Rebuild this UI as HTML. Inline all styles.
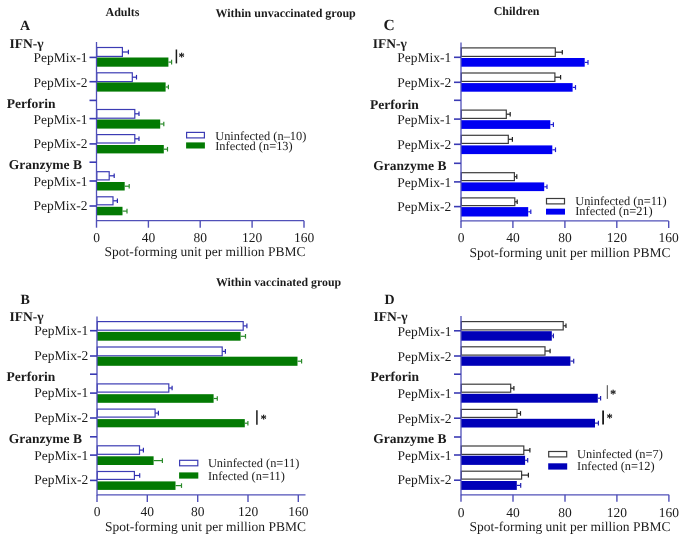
<!DOCTYPE html>
<html><head><meta charset="utf-8"><style>
html,body{margin:0;padding:0;background:#fff;}
svg{display:block;font-family:"Liberation Serif", serif;text-rendering:geometricPrecision;filter:blur(0.45px);}
</style></head><body>
<svg width="685" height="539" viewBox="0 0 685 539">
<rect width="685" height="539" fill="#fff"/>
<rect x="96.8" y="47.5" width="25.6" height="8.9" fill="#fff" stroke="#3c3cb4" stroke-width="1.2"/>
<line x1="122.6" y1="52.0" x2="128.4" y2="52.0" stroke="#2a2ab0" stroke-width="1.2"/>
<line x1="128.4" y1="49.7" x2="128.4" y2="54.2" stroke="#2a2ab0" stroke-width="1.2"/>
<rect x="96.5" y="57.5" width="71.9" height="9.2" fill="#037a03"/>
<line x1="168.4" y1="62.1" x2="171.6" y2="62.1" stroke="#2a8a2a" stroke-width="1.2"/>
<line x1="171.6" y1="59.8" x2="171.6" y2="64.4" stroke="#2a8a2a" stroke-width="1.2"/>
<rect x="96.8" y="72.8" width="35.5" height="8.8" fill="#fff" stroke="#3c3cb4" stroke-width="1.2"/>
<line x1="132.5" y1="77.2" x2="136.5" y2="77.2" stroke="#2a2ab0" stroke-width="1.2"/>
<line x1="136.5" y1="74.9" x2="136.5" y2="79.5" stroke="#2a2ab0" stroke-width="1.2"/>
<rect x="96.5" y="82.4" width="69.1" height="9.2" fill="#037a03"/>
<line x1="165.6" y1="87.0" x2="168.4" y2="87.0" stroke="#2a8a2a" stroke-width="1.2"/>
<line x1="168.4" y1="84.7" x2="168.4" y2="89.3" stroke="#2a8a2a" stroke-width="1.2"/>
<rect x="96.8" y="109.5" width="38.0" height="8.7" fill="#fff" stroke="#3c3cb4" stroke-width="1.2"/>
<line x1="135.0" y1="113.8" x2="139.0" y2="113.8" stroke="#2a2ab0" stroke-width="1.2"/>
<line x1="139.0" y1="111.5" x2="139.0" y2="116.1" stroke="#2a2ab0" stroke-width="1.2"/>
<rect x="96.5" y="119.5" width="63.7" height="9.1" fill="#037a03"/>
<line x1="160.2" y1="124.0" x2="163.8" y2="124.0" stroke="#2a8a2a" stroke-width="1.2"/>
<line x1="163.8" y1="121.8" x2="163.8" y2="126.3" stroke="#2a8a2a" stroke-width="1.2"/>
<rect x="96.8" y="134.6" width="38.0" height="8.4" fill="#fff" stroke="#3c3cb4" stroke-width="1.2"/>
<line x1="135.0" y1="138.8" x2="139.0" y2="138.8" stroke="#2a2ab0" stroke-width="1.2"/>
<line x1="139.0" y1="136.5" x2="139.0" y2="141.1" stroke="#2a2ab0" stroke-width="1.2"/>
<rect x="96.5" y="145.0" width="67.3" height="8.4" fill="#037a03"/>
<line x1="163.8" y1="149.2" x2="167.5" y2="149.2" stroke="#2a8a2a" stroke-width="1.2"/>
<line x1="167.5" y1="146.9" x2="167.5" y2="151.5" stroke="#2a8a2a" stroke-width="1.2"/>
<rect x="96.8" y="171.7" width="12.4" height="8.2" fill="#fff" stroke="#3c3cb4" stroke-width="1.2"/>
<line x1="109.4" y1="175.8" x2="114.2" y2="175.8" stroke="#2a2ab0" stroke-width="1.2"/>
<line x1="114.2" y1="173.5" x2="114.2" y2="178.1" stroke="#2a2ab0" stroke-width="1.2"/>
<rect x="96.5" y="182.0" width="28.2" height="8.5" fill="#037a03"/>
<line x1="124.7" y1="186.2" x2="129.2" y2="186.2" stroke="#2a8a2a" stroke-width="1.2"/>
<line x1="129.2" y1="183.9" x2="129.2" y2="188.6" stroke="#2a8a2a" stroke-width="1.2"/>
<rect x="96.8" y="196.8" width="16.2" height="8.0" fill="#fff" stroke="#3c3cb4" stroke-width="1.2"/>
<line x1="113.2" y1="200.8" x2="117.4" y2="200.8" stroke="#2a2ab0" stroke-width="1.2"/>
<line x1="117.4" y1="198.5" x2="117.4" y2="203.1" stroke="#2a2ab0" stroke-width="1.2"/>
<rect x="96.5" y="206.8" width="26.0" height="8.5" fill="#037a03"/>
<line x1="122.5" y1="211.1" x2="127.0" y2="211.1" stroke="#2a8a2a" stroke-width="1.2"/>
<line x1="127.0" y1="208.8" x2="127.0" y2="213.4" stroke="#2a8a2a" stroke-width="1.2"/>
<line x1="96.5" y1="42.0" x2="96.5" y2="221.2" stroke="#5050b8" stroke-width="1.3"/>
<line x1="96.5" y1="220.7" x2="304.0" y2="220.7" stroke="#5050b8" stroke-width="1.3"/>
<line x1="89.5" y1="57.4" x2="96.5" y2="57.4" stroke="#3a3ab4" stroke-width="1.6"/>
<line x1="89.5" y1="81.7" x2="96.5" y2="81.7" stroke="#3a3ab4" stroke-width="1.6"/>
<line x1="89.5" y1="100.4" x2="96.5" y2="100.4" stroke="#3a3ab4" stroke-width="1.6"/>
<line x1="89.5" y1="118.6" x2="96.5" y2="118.6" stroke="#3a3ab4" stroke-width="1.6"/>
<line x1="89.5" y1="143.9" x2="96.5" y2="143.9" stroke="#3a3ab4" stroke-width="1.6"/>
<line x1="89.5" y1="162.2" x2="96.5" y2="162.2" stroke="#3a3ab4" stroke-width="1.6"/>
<line x1="89.5" y1="181.0" x2="96.5" y2="181.0" stroke="#3a3ab4" stroke-width="1.6"/>
<line x1="89.5" y1="206.0" x2="96.5" y2="206.0" stroke="#3a3ab4" stroke-width="1.6"/>
<line x1="96.5" y1="220.7" x2="96.5" y2="227.7" stroke="#5050b8" stroke-width="1.4"/>
<text x="96.5" y="242.4" font-size="13.5" text-anchor="middle" fill="#1c1c1c">0</text>
<line x1="148.4" y1="220.7" x2="148.4" y2="227.7" stroke="#5050b8" stroke-width="1.4"/>
<text x="148.4" y="242.4" font-size="13.5" text-anchor="middle" fill="#1c1c1c">40</text>
<line x1="200.2" y1="220.7" x2="200.2" y2="227.7" stroke="#5050b8" stroke-width="1.4"/>
<text x="200.2" y="242.4" font-size="13.5" text-anchor="middle" fill="#1c1c1c">80</text>
<line x1="252.1" y1="220.7" x2="252.1" y2="227.7" stroke="#5050b8" stroke-width="1.4"/>
<text x="252.1" y="242.4" font-size="13.5" text-anchor="middle" fill="#1c1c1c">120</text>
<line x1="304.0" y1="220.7" x2="304.0" y2="227.7" stroke="#5050b8" stroke-width="1.4"/>
<text x="304.0" y="242.4" font-size="13.5" text-anchor="middle" fill="#1c1c1c">160</text>
<text x="87.4" y="61.8" font-size="13.5" text-anchor="end" fill="#1c1c1c">PepMix-1</text>
<text x="87.4" y="86.6" font-size="13.5" text-anchor="end" fill="#1c1c1c">PepMix-2</text>
<text x="87.4" y="123.6" font-size="13.5" text-anchor="end" fill="#1c1c1c">PepMix-1</text>
<text x="87.4" y="148.2" font-size="13.5" text-anchor="end" fill="#1c1c1c">PepMix-2</text>
<text x="87.4" y="185.8" font-size="13.5" text-anchor="end" fill="#1c1c1c">PepMix-1</text>
<text x="87.4" y="210.1" font-size="13.5" text-anchor="end" fill="#1c1c1c">PepMix-2</text>
<text x="19.9" y="30.2" font-size="14" font-weight="bold" fill="#1c1c1c">A</text>
<text x="9.5" y="47.9" font-size="13.5" font-weight="bold" fill="#1c1c1c">IFN-γ</text>
<text x="6.7" y="107.6" font-size="13.5" font-weight="bold" fill="#1c1c1c">Perforin</text>
<text x="8.8" y="169.4" font-size="13.5" font-weight="bold" fill="#1c1c1c">Granzyme B</text>
<text x="104.5" y="256.4" font-size="13.5" fill="#1c1c1c">Spot-forming unit per million PBMC</text>
<rect x="186.6" y="132.4" width="17.8" height="5.5" fill="#fff" stroke="#3c3cb4" stroke-width="1.2"/>
<rect x="186.1" y="142.4" width="18.8" height="6.1" fill="#037a03"/>
<text x="215.2" y="139.8" font-size="12.4" fill="#1c1c1c">Uninfected (n–10)</text>
<text x="215.2" y="150.0" font-size="12.4" fill="#1c1c1c">Infected (n=13)</text>
<line x1="176.4" y1="49.5" x2="176.4" y2="63.4" stroke="#1a1a1a" stroke-width="1.5"/>
<text x="178.5" y="61.1" font-size="12.5" font-weight="bold" fill="#000">*</text>
<rect x="97.3" y="321.6" width="145.9" height="8.6" fill="#fff" stroke="#3c3cb4" stroke-width="1.2"/>
<line x1="243.4" y1="325.9" x2="246.9" y2="325.9" stroke="#2a2ab0" stroke-width="1.2"/>
<line x1="246.9" y1="323.6" x2="246.9" y2="328.2" stroke="#2a2ab0" stroke-width="1.2"/>
<rect x="97.0" y="331.9" width="143.6" height="8.8" fill="#037a03"/>
<line x1="240.6" y1="336.3" x2="245.5" y2="336.3" stroke="#2a8a2a" stroke-width="1.2"/>
<line x1="245.5" y1="334.0" x2="245.5" y2="338.6" stroke="#2a8a2a" stroke-width="1.2"/>
<rect x="97.3" y="347.0" width="124.9" height="8.8" fill="#fff" stroke="#3c3cb4" stroke-width="1.2"/>
<line x1="222.4" y1="351.4" x2="225.4" y2="351.4" stroke="#2a2ab0" stroke-width="1.2"/>
<line x1="225.4" y1="349.1" x2="225.4" y2="353.7" stroke="#2a2ab0" stroke-width="1.2"/>
<rect x="97.0" y="356.7" width="200.5" height="9.1" fill="#037a03"/>
<line x1="297.5" y1="361.2" x2="301.6" y2="361.2" stroke="#2a8a2a" stroke-width="1.2"/>
<line x1="301.6" y1="358.9" x2="301.6" y2="363.6" stroke="#2a8a2a" stroke-width="1.2"/>
<rect x="97.3" y="383.9" width="71.5" height="8.2" fill="#fff" stroke="#3c3cb4" stroke-width="1.2"/>
<line x1="169.0" y1="388.0" x2="172.1" y2="388.0" stroke="#2a2ab0" stroke-width="1.2"/>
<line x1="172.1" y1="385.7" x2="172.1" y2="390.3" stroke="#2a2ab0" stroke-width="1.2"/>
<rect x="97.0" y="394.2" width="116.6" height="8.6" fill="#037a03"/>
<line x1="213.6" y1="398.5" x2="217.3" y2="398.5" stroke="#2a8a2a" stroke-width="1.2"/>
<line x1="217.3" y1="396.2" x2="217.3" y2="400.8" stroke="#2a8a2a" stroke-width="1.2"/>
<rect x="97.3" y="409.1" width="57.8" height="8.0" fill="#fff" stroke="#3c3cb4" stroke-width="1.2"/>
<line x1="155.3" y1="413.1" x2="158.4" y2="413.1" stroke="#2a2ab0" stroke-width="1.2"/>
<line x1="158.4" y1="410.8" x2="158.4" y2="415.4" stroke="#2a2ab0" stroke-width="1.2"/>
<rect x="97.0" y="419.1" width="147.8" height="8.2" fill="#037a03"/>
<line x1="244.8" y1="423.2" x2="247.9" y2="423.2" stroke="#2a8a2a" stroke-width="1.2"/>
<line x1="247.9" y1="420.9" x2="247.9" y2="425.5" stroke="#2a8a2a" stroke-width="1.2"/>
<rect x="97.3" y="445.8" width="42.2" height="8.5" fill="#fff" stroke="#3c3cb4" stroke-width="1.2"/>
<line x1="139.7" y1="450.1" x2="143.4" y2="450.1" stroke="#2a2ab0" stroke-width="1.2"/>
<line x1="143.4" y1="447.8" x2="143.4" y2="452.4" stroke="#2a2ab0" stroke-width="1.2"/>
<rect x="97.0" y="456.3" width="56.6" height="8.7" fill="#037a03"/>
<line x1="153.6" y1="460.6" x2="162.4" y2="460.6" stroke="#2a8a2a" stroke-width="1.2"/>
<line x1="162.4" y1="458.3" x2="162.4" y2="462.9" stroke="#2a8a2a" stroke-width="1.2"/>
<rect x="97.3" y="471.5" width="37.1" height="7.9" fill="#fff" stroke="#3c3cb4" stroke-width="1.2"/>
<line x1="134.6" y1="475.5" x2="139.7" y2="475.5" stroke="#2a2ab0" stroke-width="1.2"/>
<line x1="139.7" y1="473.2" x2="139.7" y2="477.8" stroke="#2a2ab0" stroke-width="1.2"/>
<rect x="97.0" y="481.4" width="78.5" height="8.5" fill="#037a03"/>
<line x1="175.5" y1="485.6" x2="181.5" y2="485.6" stroke="#2a8a2a" stroke-width="1.2"/>
<line x1="181.5" y1="483.3" x2="181.5" y2="487.9" stroke="#2a8a2a" stroke-width="1.2"/>
<line x1="97.0" y1="316.6" x2="97.0" y2="495.4" stroke="#5050b8" stroke-width="1.3"/>
<line x1="97.0" y1="494.9" x2="305.5" y2="494.9" stroke="#5050b8" stroke-width="1.3"/>
<line x1="90.0" y1="330.7" x2="97.0" y2="330.7" stroke="#3a3ab4" stroke-width="1.6"/>
<line x1="90.0" y1="356.0" x2="97.0" y2="356.0" stroke="#3a3ab4" stroke-width="1.6"/>
<line x1="90.0" y1="374.2" x2="97.0" y2="374.2" stroke="#3a3ab4" stroke-width="1.6"/>
<line x1="90.0" y1="393.1" x2="97.0" y2="393.1" stroke="#3a3ab4" stroke-width="1.6"/>
<line x1="90.0" y1="418.0" x2="97.0" y2="418.0" stroke="#3a3ab4" stroke-width="1.6"/>
<line x1="90.0" y1="436.8" x2="97.0" y2="436.8" stroke="#3a3ab4" stroke-width="1.6"/>
<line x1="90.0" y1="455.1" x2="97.0" y2="455.1" stroke="#3a3ab4" stroke-width="1.6"/>
<line x1="90.0" y1="480.4" x2="97.0" y2="480.4" stroke="#3a3ab4" stroke-width="1.6"/>
<line x1="97.0" y1="494.9" x2="97.0" y2="501.9" stroke="#5050b8" stroke-width="1.4"/>
<text x="97.0" y="516.4" font-size="13.5" text-anchor="middle" fill="#1c1c1c">0</text>
<line x1="147.3" y1="494.9" x2="147.3" y2="501.9" stroke="#5050b8" stroke-width="1.4"/>
<text x="147.3" y="516.4" font-size="13.5" text-anchor="middle" fill="#1c1c1c">40</text>
<line x1="197.7" y1="494.9" x2="197.7" y2="501.9" stroke="#5050b8" stroke-width="1.4"/>
<text x="197.7" y="516.4" font-size="13.5" text-anchor="middle" fill="#1c1c1c">80</text>
<line x1="248.0" y1="494.9" x2="248.0" y2="501.9" stroke="#5050b8" stroke-width="1.4"/>
<text x="248.0" y="516.4" font-size="13.5" text-anchor="middle" fill="#1c1c1c">120</text>
<line x1="298.3" y1="494.9" x2="298.3" y2="501.9" stroke="#5050b8" stroke-width="1.4"/>
<text x="298.3" y="516.4" font-size="13.5" text-anchor="middle" fill="#1c1c1c">160</text>
<text x="88.3" y="335.3" font-size="13.5" text-anchor="end" fill="#1c1c1c">PepMix-1</text>
<text x="88.3" y="360.1" font-size="13.5" text-anchor="end" fill="#1c1c1c">PepMix-2</text>
<text x="88.3" y="397.3" font-size="13.5" text-anchor="end" fill="#1c1c1c">PepMix-1</text>
<text x="88.3" y="421.9" font-size="13.5" text-anchor="end" fill="#1c1c1c">PepMix-2</text>
<text x="88.3" y="459.5" font-size="13.5" text-anchor="end" fill="#1c1c1c">PepMix-1</text>
<text x="88.3" y="483.8" font-size="13.5" text-anchor="end" fill="#1c1c1c">PepMix-2</text>
<text x="20.4" y="303.6" font-size="14" font-weight="bold" fill="#1c1c1c">B</text>
<text x="9.6" y="321.1" font-size="13.5" font-weight="bold" fill="#1c1c1c">IFN-γ</text>
<text x="6.6" y="381.3" font-size="13.5" font-weight="bold" fill="#1c1c1c">Perforin</text>
<text x="8.8" y="443.1" font-size="13.5" font-weight="bold" fill="#1c1c1c">Granzyme B</text>
<text x="105.0" y="531.2" font-size="13.5" fill="#1c1c1c">Spot-forming unit per million PBMC</text>
<rect x="179.6" y="460.3" width="18.2" height="5.5" fill="#fff" stroke="#3c3cb4" stroke-width="1.2"/>
<rect x="179.1" y="472.4" width="19.2" height="6.2" fill="#037a03"/>
<text x="207.9" y="466.8" font-size="12.4" fill="#1c1c1c">Uninfected (n=11)</text>
<text x="207.9" y="479.5" font-size="12.4" fill="#1c1c1c">Infected (n=11)</text>
<line x1="256.9" y1="410.2" x2="256.9" y2="424.7" stroke="#1a1a1a" stroke-width="1.5"/>
<text x="260.5" y="423.2" font-size="12.5" font-weight="bold" fill="#000">*</text>
<rect x="461.3" y="47.9" width="94.0" height="8.5" fill="#fff" stroke="#3c3c3c" stroke-width="1.2"/>
<line x1="555.5" y1="52.2" x2="562.3" y2="52.2" stroke="#222" stroke-width="1.2"/>
<line x1="562.3" y1="49.9" x2="562.3" y2="54.5" stroke="#222" stroke-width="1.2"/>
<rect x="461.0" y="58.0" width="123.7" height="8.7" fill="#0000f2"/>
<line x1="584.7" y1="62.4" x2="588.0" y2="62.4" stroke="#2020d0" stroke-width="1.2"/>
<line x1="588.0" y1="60.1" x2="588.0" y2="64.7" stroke="#2020d0" stroke-width="1.2"/>
<rect x="461.3" y="73.0" width="93.6" height="8.4" fill="#fff" stroke="#3c3c3c" stroke-width="1.2"/>
<line x1="555.1" y1="77.2" x2="560.6" y2="77.2" stroke="#222" stroke-width="1.2"/>
<line x1="560.6" y1="74.9" x2="560.6" y2="79.5" stroke="#222" stroke-width="1.2"/>
<rect x="461.0" y="83.1" width="111.6" height="8.6" fill="#0000f2"/>
<line x1="572.6" y1="87.4" x2="575.5" y2="87.4" stroke="#2020d0" stroke-width="1.2"/>
<line x1="575.5" y1="85.1" x2="575.5" y2="89.7" stroke="#2020d0" stroke-width="1.2"/>
<rect x="461.3" y="110.1" width="45.0" height="8.3" fill="#fff" stroke="#3c3c3c" stroke-width="1.2"/>
<line x1="506.5" y1="114.2" x2="510.2" y2="114.2" stroke="#222" stroke-width="1.2"/>
<line x1="510.2" y1="112.0" x2="510.2" y2="116.5" stroke="#222" stroke-width="1.2"/>
<rect x="461.0" y="120.2" width="89.3" height="8.7" fill="#0000f2"/>
<line x1="550.3" y1="124.6" x2="553.4" y2="124.6" stroke="#2020d0" stroke-width="1.2"/>
<line x1="553.4" y1="122.3" x2="553.4" y2="126.9" stroke="#2020d0" stroke-width="1.2"/>
<rect x="461.3" y="135.3" width="47.0" height="8.1" fill="#fff" stroke="#3c3c3c" stroke-width="1.2"/>
<line x1="508.5" y1="139.3" x2="512.4" y2="139.3" stroke="#222" stroke-width="1.2"/>
<line x1="512.4" y1="137.0" x2="512.4" y2="141.7" stroke="#222" stroke-width="1.2"/>
<rect x="461.0" y="145.4" width="91.3" height="8.7" fill="#0000f2"/>
<line x1="552.3" y1="149.8" x2="555.5" y2="149.8" stroke="#2020d0" stroke-width="1.2"/>
<line x1="555.5" y1="147.4" x2="555.5" y2="152.1" stroke="#2020d0" stroke-width="1.2"/>
<rect x="461.3" y="172.7" width="53.1" height="7.9" fill="#fff" stroke="#3c3c3c" stroke-width="1.2"/>
<line x1="514.6" y1="176.7" x2="516.8" y2="176.7" stroke="#222" stroke-width="1.2"/>
<line x1="516.8" y1="174.3" x2="516.8" y2="179.0" stroke="#222" stroke-width="1.2"/>
<rect x="461.0" y="182.4" width="83.2" height="8.7" fill="#0000f2"/>
<line x1="544.2" y1="186.8" x2="547.0" y2="186.8" stroke="#2020d0" stroke-width="1.2"/>
<line x1="547.0" y1="184.4" x2="547.0" y2="189.1" stroke="#2020d0" stroke-width="1.2"/>
<rect x="461.3" y="197.9" width="53.5" height="7.7" fill="#fff" stroke="#3c3c3c" stroke-width="1.2"/>
<line x1="515.0" y1="201.8" x2="517.2" y2="201.8" stroke="#222" stroke-width="1.2"/>
<line x1="517.2" y1="199.4" x2="517.2" y2="204.1" stroke="#222" stroke-width="1.2"/>
<rect x="461.0" y="207.1" width="67.2" height="9.4" fill="#0000f2"/>
<line x1="528.2" y1="211.8" x2="530.8" y2="211.8" stroke="#2020d0" stroke-width="1.2"/>
<line x1="530.8" y1="209.5" x2="530.8" y2="214.1" stroke="#2020d0" stroke-width="1.2"/>
<line x1="461.0" y1="42.5" x2="461.0" y2="221.4" stroke="#5050b8" stroke-width="1.3"/>
<line x1="461.0" y1="220.9" x2="668.7" y2="220.9" stroke="#5050b8" stroke-width="1.3"/>
<line x1="454.0" y1="57.3" x2="461.0" y2="57.3" stroke="#3a3ab4" stroke-width="1.6"/>
<line x1="454.0" y1="82.3" x2="461.0" y2="82.3" stroke="#3a3ab4" stroke-width="1.6"/>
<line x1="454.0" y1="100.3" x2="461.0" y2="100.3" stroke="#3a3ab4" stroke-width="1.6"/>
<line x1="454.0" y1="119.1" x2="461.0" y2="119.1" stroke="#3a3ab4" stroke-width="1.6"/>
<line x1="454.0" y1="144.3" x2="461.0" y2="144.3" stroke="#3a3ab4" stroke-width="1.6"/>
<line x1="454.0" y1="163.3" x2="461.0" y2="163.3" stroke="#3a3ab4" stroke-width="1.6"/>
<line x1="454.0" y1="181.9" x2="461.0" y2="181.9" stroke="#3a3ab4" stroke-width="1.6"/>
<line x1="454.0" y1="206.6" x2="461.0" y2="206.6" stroke="#3a3ab4" stroke-width="1.6"/>
<line x1="461.0" y1="220.9" x2="461.0" y2="227.9" stroke="#5050b8" stroke-width="1.4"/>
<text x="461.0" y="242.4" font-size="13.5" text-anchor="middle" fill="#1c1c1c">0</text>
<line x1="512.9" y1="220.9" x2="512.9" y2="227.9" stroke="#5050b8" stroke-width="1.4"/>
<text x="512.9" y="242.4" font-size="13.5" text-anchor="middle" fill="#1c1c1c">40</text>
<line x1="564.9" y1="220.9" x2="564.9" y2="227.9" stroke="#5050b8" stroke-width="1.4"/>
<text x="564.9" y="242.4" font-size="13.5" text-anchor="middle" fill="#1c1c1c">80</text>
<line x1="616.8" y1="220.9" x2="616.8" y2="227.9" stroke="#5050b8" stroke-width="1.4"/>
<text x="616.8" y="242.4" font-size="13.5" text-anchor="middle" fill="#1c1c1c">120</text>
<line x1="668.7" y1="220.9" x2="668.7" y2="227.9" stroke="#5050b8" stroke-width="1.4"/>
<text x="668.7" y="242.4" font-size="13.5" text-anchor="middle" fill="#1c1c1c">160</text>
<text x="451.3" y="61.5" font-size="13.5" text-anchor="end" fill="#1c1c1c">PepMix-1</text>
<text x="451.3" y="87.0" font-size="13.5" text-anchor="end" fill="#1c1c1c">PepMix-2</text>
<text x="451.3" y="124.3" font-size="13.5" text-anchor="end" fill="#1c1c1c">PepMix-1</text>
<text x="451.3" y="149.1" font-size="13.5" text-anchor="end" fill="#1c1c1c">PepMix-2</text>
<text x="451.3" y="186.5" font-size="13.5" text-anchor="end" fill="#1c1c1c">PepMix-1</text>
<text x="451.3" y="211.4" font-size="13.5" text-anchor="end" fill="#1c1c1c">PepMix-2</text>
<text x="383.4" y="30.2" font-size="15.5" font-weight="bold" fill="#1c1c1c">C</text>
<text x="372.8" y="47.8" font-size="13.5" font-weight="bold" fill="#1c1c1c">IFN-γ</text>
<text x="370.1" y="108.6" font-size="13.5" font-weight="bold" fill="#1c1c1c">Perforin</text>
<text x="373.3" y="170.3" font-size="13.5" font-weight="bold" fill="#1c1c1c">Granzyme B</text>
<text x="469.5" y="256.9" font-size="13.5" fill="#1c1c1c">Spot-forming unit per million PBMC</text>
<rect x="546.5" y="198.5" width="18.0" height="5.4" fill="#fff" stroke="#3c3c3c" stroke-width="1.2"/>
<rect x="546.0" y="208.7" width="19.0" height="5.9" fill="#0000f2"/>
<text x="575.2" y="205.0" font-size="12.4" fill="#1c1c1c">Uninfected (n=11)</text>
<text x="575.2" y="215.4" font-size="12.4" fill="#1c1c1c">Infected (n=21)</text>
<rect x="461.3" y="321.6" width="101.9" height="8.3" fill="#fff" stroke="#3c3c3c" stroke-width="1.2"/>
<line x1="563.4" y1="325.8" x2="566.0" y2="325.8" stroke="#222" stroke-width="1.2"/>
<line x1="566.0" y1="323.4" x2="566.0" y2="328.1" stroke="#222" stroke-width="1.2"/>
<rect x="461.0" y="331.2" width="90.8" height="9.5" fill="#0000b8"/>
<line x1="551.8" y1="335.9" x2="553.4" y2="335.9" stroke="#2020b0" stroke-width="1.2"/>
<line x1="553.4" y1="333.6" x2="553.4" y2="338.2" stroke="#2020b0" stroke-width="1.2"/>
<rect x="461.3" y="346.8" width="83.7" height="8.3" fill="#fff" stroke="#3c3c3c" stroke-width="1.2"/>
<line x1="545.2" y1="351.0" x2="550.1" y2="351.0" stroke="#222" stroke-width="1.2"/>
<line x1="550.1" y1="348.7" x2="550.1" y2="353.3" stroke="#222" stroke-width="1.2"/>
<rect x="461.0" y="356.4" width="109.4" height="9.4" fill="#0000b8"/>
<line x1="570.4" y1="361.1" x2="573.7" y2="361.1" stroke="#2020b0" stroke-width="1.2"/>
<line x1="573.7" y1="358.8" x2="573.7" y2="363.4" stroke="#2020b0" stroke-width="1.2"/>
<rect x="461.3" y="384.2" width="49.4" height="8.0" fill="#fff" stroke="#3c3c3c" stroke-width="1.2"/>
<line x1="510.9" y1="388.2" x2="513.9" y2="388.2" stroke="#222" stroke-width="1.2"/>
<line x1="513.9" y1="385.9" x2="513.9" y2="390.5" stroke="#222" stroke-width="1.2"/>
<rect x="461.0" y="393.8" width="136.8" height="8.9" fill="#0000b8"/>
<line x1="597.8" y1="398.2" x2="600.6" y2="398.2" stroke="#2020b0" stroke-width="1.2"/>
<line x1="600.6" y1="395.9" x2="600.6" y2="400.6" stroke="#2020b0" stroke-width="1.2"/>
<rect x="461.3" y="409.4" width="55.7" height="8.0" fill="#fff" stroke="#3c3c3c" stroke-width="1.2"/>
<line x1="517.2" y1="413.4" x2="520.5" y2="413.4" stroke="#222" stroke-width="1.2"/>
<line x1="520.5" y1="411.1" x2="520.5" y2="415.7" stroke="#222" stroke-width="1.2"/>
<rect x="461.0" y="418.8" width="134.0" height="8.7" fill="#0000b8"/>
<line x1="595.0" y1="423.1" x2="598.4" y2="423.1" stroke="#2020b0" stroke-width="1.2"/>
<line x1="598.4" y1="420.8" x2="598.4" y2="425.4" stroke="#2020b0" stroke-width="1.2"/>
<rect x="461.3" y="446.0" width="62.5" height="8.4" fill="#fff" stroke="#3c3c3c" stroke-width="1.2"/>
<line x1="524.0" y1="450.2" x2="529.9" y2="450.2" stroke="#222" stroke-width="1.2"/>
<line x1="529.9" y1="447.9" x2="529.9" y2="452.5" stroke="#222" stroke-width="1.2"/>
<rect x="461.0" y="455.7" width="64.1" height="9.2" fill="#0000b8"/>
<line x1="525.1" y1="460.3" x2="527.7" y2="460.3" stroke="#2020b0" stroke-width="1.2"/>
<line x1="527.7" y1="458.0" x2="527.7" y2="462.6" stroke="#2020b0" stroke-width="1.2"/>
<rect x="461.3" y="471.2" width="60.3" height="7.9" fill="#fff" stroke="#3c3c3c" stroke-width="1.2"/>
<line x1="521.8" y1="475.1" x2="528.4" y2="475.1" stroke="#222" stroke-width="1.2"/>
<line x1="528.4" y1="472.8" x2="528.4" y2="477.4" stroke="#222" stroke-width="1.2"/>
<rect x="461.0" y="481.0" width="55.8" height="8.9" fill="#0000b8"/>
<line x1="516.8" y1="485.4" x2="520.7" y2="485.4" stroke="#2020b0" stroke-width="1.2"/>
<line x1="520.7" y1="483.1" x2="520.7" y2="487.8" stroke="#2020b0" stroke-width="1.2"/>
<line x1="461.0" y1="316.1" x2="461.0" y2="495.3" stroke="#5050b8" stroke-width="1.3"/>
<line x1="461.0" y1="494.8" x2="668.9" y2="494.8" stroke="#5050b8" stroke-width="1.3"/>
<line x1="454.0" y1="330.8" x2="461.0" y2="330.8" stroke="#3a3ab4" stroke-width="1.6"/>
<line x1="454.0" y1="356.0" x2="461.0" y2="356.0" stroke="#3a3ab4" stroke-width="1.6"/>
<line x1="454.0" y1="374.2" x2="461.0" y2="374.2" stroke="#3a3ab4" stroke-width="1.6"/>
<line x1="454.0" y1="393.0" x2="461.0" y2="393.0" stroke="#3a3ab4" stroke-width="1.6"/>
<line x1="454.0" y1="418.2" x2="461.0" y2="418.2" stroke="#3a3ab4" stroke-width="1.6"/>
<line x1="454.0" y1="437.0" x2="461.0" y2="437.0" stroke="#3a3ab4" stroke-width="1.6"/>
<line x1="454.0" y1="455.0" x2="461.0" y2="455.0" stroke="#3a3ab4" stroke-width="1.6"/>
<line x1="454.0" y1="480.2" x2="461.0" y2="480.2" stroke="#3a3ab4" stroke-width="1.6"/>
<line x1="461.0" y1="494.8" x2="461.0" y2="501.8" stroke="#5050b8" stroke-width="1.4"/>
<text x="461.0" y="516.7" font-size="13.5" text-anchor="middle" fill="#1c1c1c">0</text>
<line x1="513.0" y1="494.8" x2="513.0" y2="501.8" stroke="#5050b8" stroke-width="1.4"/>
<text x="513.0" y="516.7" font-size="13.5" text-anchor="middle" fill="#1c1c1c">40</text>
<line x1="565.0" y1="494.8" x2="565.0" y2="501.8" stroke="#5050b8" stroke-width="1.4"/>
<text x="565.0" y="516.7" font-size="13.5" text-anchor="middle" fill="#1c1c1c">80</text>
<line x1="616.9" y1="494.8" x2="616.9" y2="501.8" stroke="#5050b8" stroke-width="1.4"/>
<text x="616.9" y="516.7" font-size="13.5" text-anchor="middle" fill="#1c1c1c">120</text>
<line x1="668.9" y1="494.8" x2="668.9" y2="501.8" stroke="#5050b8" stroke-width="1.4"/>
<text x="668.9" y="516.7" font-size="13.5" text-anchor="middle" fill="#1c1c1c">160</text>
<text x="451.5" y="335.7" font-size="13.5" text-anchor="end" fill="#1c1c1c">PepMix-1</text>
<text x="451.5" y="360.8" font-size="13.5" text-anchor="end" fill="#1c1c1c">PepMix-2</text>
<text x="451.5" y="397.8" font-size="13.5" text-anchor="end" fill="#1c1c1c">PepMix-1</text>
<text x="451.5" y="423.0" font-size="13.5" text-anchor="end" fill="#1c1c1c">PepMix-2</text>
<text x="451.5" y="459.5" font-size="13.5" text-anchor="end" fill="#1c1c1c">PepMix-1</text>
<text x="451.5" y="484.4" font-size="13.5" text-anchor="end" fill="#1c1c1c">PepMix-2</text>
<text x="384.5" y="303.6" font-size="14" font-weight="bold" fill="#1c1c1c">D</text>
<text x="373.4" y="321.2" font-size="13.5" font-weight="bold" fill="#1c1c1c">IFN-γ</text>
<text x="370.4" y="380.9" font-size="13.5" font-weight="bold" fill="#1c1c1c">Perforin</text>
<text x="373.3" y="442.9" font-size="13.5" font-weight="bold" fill="#1c1c1c">Granzyme B</text>
<text x="469.5" y="531.4" font-size="13.5" fill="#1c1c1c">Spot-forming unit per million PBMC</text>
<rect x="548.7" y="451.5" width="18.0" height="5.4" fill="#fff" stroke="#3c3c3c" stroke-width="1.2"/>
<rect x="548.2" y="463.3" width="19.0" height="6.3" fill="#0000b8"/>
<text x="577.0" y="457.8" font-size="12.4" fill="#1c1c1c">Uninfected (n=7)</text>
<text x="577.0" y="470.2" font-size="12.4" fill="#1c1c1c">Infected (n=12)</text>
<line x1="607.3" y1="385.2" x2="607.3" y2="398.9" stroke="#444" stroke-width="1.0"/>
<text x="609.9" y="397.7" font-size="12.5" font-weight="bold" fill="#000">*</text>
<line x1="603.1" y1="410.4" x2="603.1" y2="424.5" stroke="#1a1a1a" stroke-width="1.8"/>
<text x="606.4" y="422.0" font-size="12.5" font-weight="bold" fill="#000">*</text>
<text x="105.5" y="15.8" font-size="12" font-weight="bold" fill="#1c1c1c">Adults</text>
<text x="215.5" y="17.1" font-size="12" font-weight="bold" fill="#1c1c1c">Within unvaccinated group</text>
<text x="493.7" y="14.9" font-size="12" font-weight="bold" fill="#1c1c1c">Children</text>
<text x="215.9" y="285.7" font-size="11.85" font-weight="bold" fill="#1c1c1c">Within vaccinated group</text>
</svg></body></html>
